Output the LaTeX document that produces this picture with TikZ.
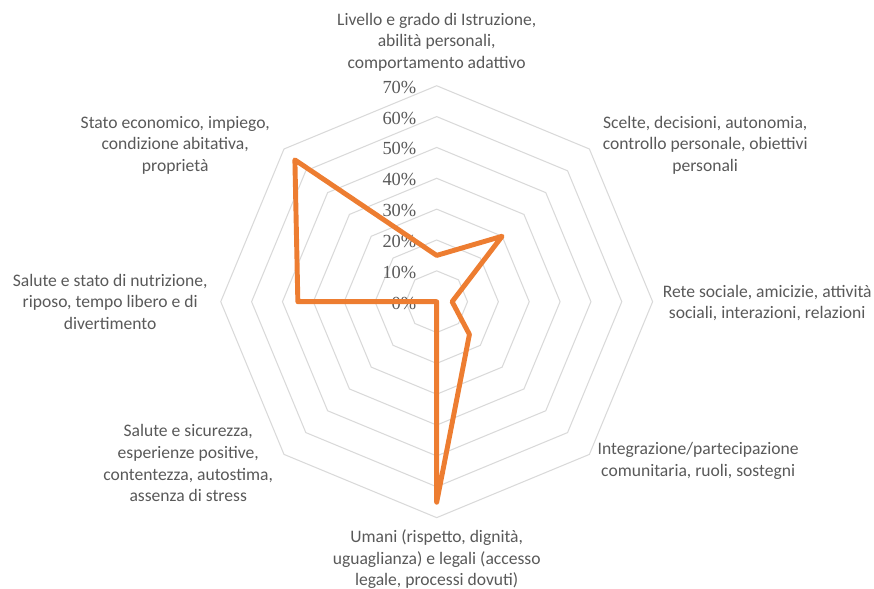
\documentclass[tikz,border=0pt]{standalone}
\usepackage{fontspec}
\setmainfont{Carlito}
\newfontfamily\pctfont{Liberation Serif}
\usetikzlibrary{calc}

\definecolor{radarorange}{RGB}{237,125,49}
\definecolor{gridgray}{RGB}{217,217,217}
\definecolor{labelgray}{RGB}{89,89,89}

\begin{document}
\begin{tikzpicture}[
  ring/.style={draw=gridgray, line width=0.6pt},
  axislabel/.style={text=labelgray, align=center, inner sep=0pt, font=\fontsize{10}{12.3}\selectfont},
  pctlabel/.style={text=labelgray, anchor=east, inner sep=0pt, font=\pctfont\fontsize{10.5}{12}\selectfont},
  series/.style={draw=radarorange, line width=2.8pt, line join=round}
]
\useasboundingbox (-8.734,-5.746) rectangle (8.746,6.034);
\coordinate (O) at (0,0);

% grid rings, 10% to 70%
\foreach \r in {1,...,7}
  \draw[ring] (0:\r*0.617) \foreach \a in {45,90,...,315} { -- (\a:\r*0.617) } -- cycle;

% scale labels
\foreach \r [evaluate=\r as \pc using int(10*\r)] in {0,...,7}
  \node[pctlabel] (p\r) at (-0.4,\r*0.617-0.03) {\pc\%};

% data series, clockwise from the top
\foreach \v [count=\i, evaluate=\i as \ang using 135-45*\i] in {15,30,5,15,65,0,45,65}
  \coordinate (d\i) at (\ang:\v*0.0617);
\draw[series] (d1) -- (d2) -- (d3) -- (d4) -- (d5) -- (d6) -- (d7) -- (d8) -- cycle;

% axis labels
\node[axislabel] (istr) at (0,5.19) {Livello e grado di Istruzione,\\abilità personali,\\comportamento adattivo};
\node[axislabel] (scelte) at (5.37,3.13) {Scelte, decisioni, autonomia,\\controllo personale, obiettivi\\personali};
\node[axislabel] (rete) at (6.61,-0.03) {Rete sociale, amicizie, attività\\sociali, interazioni, relazioni};
\node[axislabel] (integr) at (5.23,-3.19) {Integrazione/partecipazione\\comunitaria, ruoli, sostegni};
\node[axislabel] (umani) at (0,-5.15) {Umani (rispetto, dignità,\\uguaglianza) e legali (accesso\\legale, processi dovuti)};
\node[axislabel] (sicur) at (-4.97,-3.23) {Salute e sicurezza,\\esperienze positive,\\contentezza, autostima,\\assenza di stress};
\node[axislabel] (nutri) at (-6.53,0) {Salute e stato di nutrizione,\\riposo, tempo libero e di\\divertimento};
\node[axislabel] (econ) at (-5.23,3.13) {Stato economico, impiego,\\condizione abitativa,\\proprietà};

\end{tikzpicture}
\end{document}
